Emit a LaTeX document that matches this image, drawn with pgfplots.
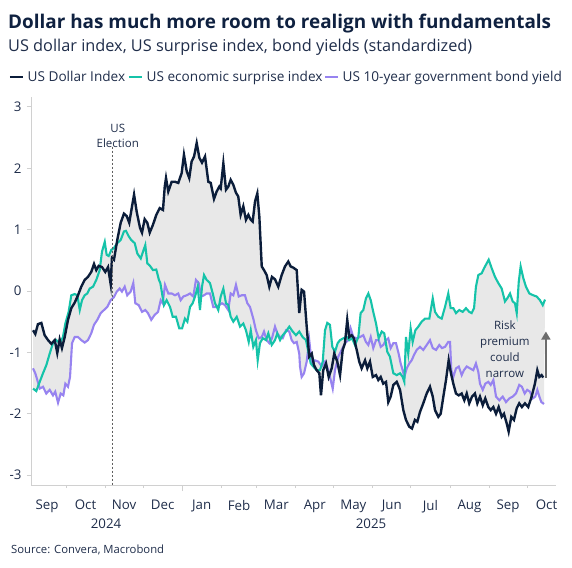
\documentclass[border=0pt]{standalone}
\usepackage{pgfplots}
\pgfplotsset{compat=1.18}
\usepgfplotslibrary{fillbetween}
\usetikzlibrary{arrows.meta}
\usepackage{fontspec}
\setmainfont{Open Sans}
\definecolor{navy}{HTML}{0B1D3A}
\definecolor{teal2}{HTML}{15C3A9}
\definecolor{lav}{HTML}{9783F0}
\definecolor{fillgray}{HTML}{E8E8E8}
\definecolor{axisgray}{HTML}{D0D0D0}
\definecolor{txt}{HTML}{1F2D4A}
\definecolor{ttl}{HTML}{0F2140}
\begin{document}
\begin{tikzpicture}
\begin{axis}[
  at={(0pt,0pt)}, anchor=south west,
  scale only axis, width=525pt, height=388pt,
  set layers,
  xmin=2.3, xmax=418, ymin=-3.16, ymax=3.16,
  axis lines*=left,
  axis line style={draw=axisgray, line width=0.8pt},
  tick align=outside,
  ytick={-3,-2,-1,0,1,2,3},
  yticklabels={{-3},{-2},{-1},0,1,2,3},
  ytick style={draw=axisgray, line width=0.8pt},
  major tick length=4pt,
  minor tick length=3pt,
  xtick={15,45.5,76,106.5,137.5,167,196.5,227,257.5,288,318.5,349.5,380,410.5},
  xticklabels={Sep,Oct,Nov,Dec,Jan,Feb,Mar,Apr,May,Jun,Jul,Aug,Sep,Oct},
  xtick style={draw=none},
  minor xtick={30,61,91,153,181,212,242,273,303,334,365,395},
  minor x tick style={draw=axisgray, line width=0.8pt},
  extra x ticks={122},
  extra x tick labels={},
  extra x tick style={xtick style={draw=axisgray, line width=0.8pt}, major tick length=6pt},
  ticklabel style={font=\fontsize{13.3}{15}\selectfont, text=txt},
  xticklabel style={yshift=-7.5pt},
  yticklabel style={xshift=-2pt},
  clip=false,
]
\addplot[lav, line width=2.1pt, name path=yld] table {
3.9 -1.26
5.7 -1.34
7.3 -1.45
9.2 -1.59
11.8 -1.56
14.4 -1.67
17.1 -1.61
19.7 -1.70
21.5 -1.64
23.7 -1.82
25.8 -1.67
27.9 -1.70
29.5 -1.51
31.6 -1.56
33.2 -1.40
34.8 -0.85
36.9 -0.75
39.5 -0.75
42.1 -0.80
44.8 -0.84
47.4 -0.80
50.0 -0.69
52.2 -0.55
54.8 -0.47
57.5 -0.36
60.1 -0.31
62.7 -0.26
65.4 -0.15
68.0 -0.10
70.2 -0.01
72.5 0.04
74.3 -0.01
76.5 0.07
78.5 -0.07
81.2 -0.01
83.3 0.13
84.9 -0.20
87.6 -0.23
90.2 -0.34
92.8 -0.31
94.9 -0.36
97.5 -0.47
100.2 -0.39
102.9 -0.34
105.0 -0.15
106.6 -0.20
108.4 0.10
111.0 -0.04
113.7 -0.04
116.3 -0.07
118.9 -0.04
120.8 -0.15
122.9 -0.09
125.6 -0.07
128.2 -0.04
130.8 -0.09
132.9 0.18
135.1 0.13
137.1 -0.09
139.3 -0.07
141.4 -0.04
144.0 -0.04
146.6 -0.26
148.8 -0.26
151.4 -0.23
153.5 -0.20
155.9 -0.23
158.5 -0.31
160.4 -0.04
162.5 -0.07
164.6 0.10
166.8 -0.09
169.1 -0.07
171.7 -0.07
173.6 -0.20
175.7 -0.26
178.3 -0.45
180.4 -0.64
182.6 -0.77
185.0 -0.75
186.8 -0.66
188.9 -0.80
191.0 -0.85
193.1 -0.77
195.5 -0.58
197.3 -0.69
199.5 -0.75
201.6 -0.77
204.2 -0.64
206.8 -0.66
208.7 -0.80
210.5 -0.85
212.7 -0.83
214.7 -1.02
215.3 -1.23
216.6 -1.40
218.5 -1.34
220.6 -1.15
222.6 -0.80
224.6 -1.18
227.2 -1.13
229.8 -1.15
232.5 -1.23
235.1 -1.15
237.7 -1.29
239.6 -1.45
241.2 -1.59
243.0 -1.29
245.6 -1.07
248.3 -0.96
250.9 -0.85
253.5 -0.80
255.4 -0.61
257.5 -0.75
260.2 -0.77
262.8 -0.75
265.4 -0.72
267.5 -0.83
269.4 -0.88
271.3 -0.75
273.3 -0.93
275.5 -0.80
277.6 -0.80
279.2 -0.91
281.2 -0.88
283.4 -0.80
285.2 -0.77
287.1 -0.93
289.2 -0.85
291.3 -0.85
293.4 -1.02
295.0 -1.18
296.6 -1.29
297.9 -1.40
299.8 -1.26
301.8 -1.18
303.7 -1.13
305.6 -1.04
307.7 -0.96
310.3 -0.91
312.9 -0.96
315.6 -0.88
318.2 -0.80
320.4 -0.93
323.0 -0.96
325.6 -0.88
327.7 -0.93
330.1 -0.91
332.7 -0.83
334.1 -0.83
335.1 -1.29
336.7 -1.40
338.8 -1.26
341.0 -1.23
343.3 -1.37
345.1 -1.29
347.3 -1.23
349.9 -1.26
352.5 -1.29
354.6 -1.18
356.5 -1.32
357.8 -1.51
360.0 -1.61
362.0 -1.51
364.4 -1.48
366.3 -1.53
368.4 -1.45
370.5 -1.72
373.1 -1.78
375.8 -1.72
378.4 -1.81
381.0 -1.75
383.7 -1.72
386.3 -1.67
388.9 -1.53
391.0 -1.56
393.2 -1.67
395.2 -1.61
397.4 -1.64
399.5 -1.75
401.6 -1.72
403.2 -1.61
404.8 -1.72
406.4 -1.81
408.5 -1.84
};
\addplot[teal2, line width=2.1pt, name path=ces] table {
3.9 -1.59
6.5 -1.63
9.2 -1.48
11.8 -1.34
14.4 -1.21
17.1 -1.02
19.7 -0.85
22.3 -0.80
25.0 -0.85
27.6 -0.75
29.5 -0.53
32.1 -0.34
34.2 -0.07
36.9 -0.05
39.0 -0.07
40.9 -0.31
42.7 -0.15
44.8 -0.07
46.9 -0.04
48.8 0.04
51.4 0.07
54.0 0.18
56.7 0.34
58.5 0.64
60.7 0.80
62.2 0.59
63.8 0.57
65.9 0.67
68.0 0.70
70.6 0.78
73.3 0.83
75.9 0.97
77.5 0.98
79.7 0.89
81.7 0.83
84.4 0.78
86.5 0.61
89.2 0.53
91.0 0.64
92.8 0.75
94.4 0.45
96.5 0.41
98.9 0.34
101.5 0.35
103.6 0.18
104.7 0.13
107.6 -0.23
109.7 -0.15
112.4 -0.26
114.5 -0.42
117.1 -0.42
119.7 -0.61
121.9 -0.61
124.2 -0.45
126.1 -0.50
128.2 -0.26
130.3 -0.20
132.2 -0.09
134.3 0.07
136.1 -0.31
137.7 0.07
139.3 0.26
141.4 0.18
144.0 0.13
146.2 -0.04
148.0 -0.20
150.6 -0.31
152.5 -0.09
154.6 0.04
156.7 -0.20
158.5 -0.23
160.4 -0.42
162.5 -0.50
165.2 -0.42
167.8 -0.58
170.4 -0.53
172.5 -0.64
174.7 -0.83
176.3 -0.64
178.3 -0.91
180.4 -0.80
181.8 -1.13
183.6 -0.85
185.8 -0.77
188.4 -0.80
190.2 -0.69
192.9 -0.88
195.5 -0.80
197.3 -0.69
199.5 -0.80
201.6 -0.72
204.2 -0.66
206.8 -0.58
209.5 -0.66
212.1 -0.72
214.7 -0.66
217.4 -0.75
220.0 -0.80
221.9 -0.99
223.8 -1.18
225.8 -1.23
228.5 -1.29
231.1 -1.29
233.3 -1.15
235.1 -0.64
236.9 -0.52
239.0 -0.55
240.9 -0.91
243.0 -0.99
245.1 -0.85
247.0 -0.80
249.6 -0.77
252.3 -0.75
254.3 -0.80
256.5 -0.77
258.8 -0.88
261.5 -0.75
263.3 -0.36
265.4 -0.31
267.5 -0.12
269.4 -0.04
271.3 -0.15
273.3 -0.34
275.5 -0.53
277.6 -0.77
280.0 -0.66
282.0 -0.69
284.4 -0.99
286.5 -1.07
289.2 -1.34
291.9 -1.37
294.5 -1.34
296.6 -1.40
297.9 -1.48
299.2 -0.75
301.0 -1.02
302.9 -0.61
304.5 -0.83
306.6 -0.64
309.0 -0.58
311.6 -0.50
314.3 -0.45
317.7 -0.45
320.4 -0.12
322.2 -0.34
324.8 -0.42
327.5 -0.45
330.1 -0.26
332.7 -0.04
334.6 -0.28
336.7 -0.28
338.8 -0.36
341.4 -0.31
344.1 -0.34
346.7 -0.28
349.3 -0.34
351.2 -0.36
353.1 -0.28
354.6 0.07
356.5 0.26
359.2 0.29
361.0 0.37
363.1 0.45
364.7 0.51
367.1 0.37
369.7 0.23
372.3 0.13
375.0 0.04
377.6 -0.17
379.4 -0.12
381.6 -0.04
383.7 -0.17
385.5 -0.20
386.9 -0.36
388.5 0.15
390.0 0.40
392.1 0.21
394.2 0.07
396.9 -0.04
400.0 -0.07
402.7 -0.09
405.3 -0.15
407.5 -0.23
409.3 -0.14
};
\addplot[navy, line width=2.4pt, name path=usd] table {
3.9 -0.64
5.7 -0.70
7.8 -0.54
10.5 -0.52
13.1 -0.72
15.8 -0.80
18.4 -0.86
21.1 -0.80
23.1 -1.01
25.0 -0.79
26.8 -0.93
29.0 -0.75
31.6 -0.47
34.2 -0.28
36.9 -0.19
39.5 -0.07
42.1 0.07
44.8 0.18
47.4 0.23
50.0 0.31
52.2 0.44
54.0 0.34
55.9 0.41
58.5 0.39
61.1 0.31
63.3 0.39
65.4 0.11
66.4 0.54
68.0 0.51
70.6 0.83
73.3 1.11
75.9 1.26
78.1 1.22
80.1 1.11
82.3 1.38
83.9 1.57
86.0 1.29
88.6 1.03
90.2 0.95
92.3 1.17
94.4 1.11
96.3 0.95
98.9 1.08
101.5 1.24
104.2 1.35
106.8 1.32
108.2 1.70
109.2 1.84
111.0 1.62
113.7 1.78
116.3 1.78
118.9 1.76
121.6 1.92
123.4 2.22
125.6 1.95
127.6 1.84
129.5 2.11
131.4 2.19
133.5 2.41
135.6 2.17
137.7 2.09
140.1 2.19
142.7 1.78
144.6 1.76
147.2 1.50
149.3 1.62
151.4 1.70
152.5 1.67
154.6 2.08
156.7 1.65
158.5 1.70
160.4 1.81
162.5 1.73
164.6 1.60
166.4 1.54
168.3 1.24
170.4 1.38
172.5 1.16
174.4 1.24
176.3 1.16
177.8 1.13
179.7 1.46
181.5 1.59
183.1 1.21
185.0 0.40
186.8 0.34
188.9 0.26
191.0 0.07
193.1 0.23
195.5 0.19
198.1 0.07
200.8 0.26
203.4 0.40
206.0 0.48
207.9 0.40
210.0 0.38
212.7 0.34
214.7 -0.36
216.6 0.02
218.5 -0.01
220.6 -0.58
222.6 -1.07
224.6 -1.02
226.4 -1.21
228.5 -1.29
230.6 -1.34
231.9 -1.70
233.7 -1.29
235.9 -1.18
238.0 -1.40
240.4 -1.26
242.4 -1.02
244.8 -1.15
247.0 -1.37
249.1 -0.96
250.9 -0.85
252.7 -0.47
254.3 -0.75
256.2 -0.72
258.0 -0.77
260.2 -0.96
262.2 -1.15
264.1 -1.26
266.8 -1.13
268.6 -1.26
270.7 -1.15
272.9 -1.40
275.5 -1.37
277.3 -1.45
279.2 -1.40
281.2 -1.51
283.4 -1.48
285.2 -1.81
287.1 -1.72
289.2 -1.53
291.9 -1.48
294.5 -1.61
297.1 -1.94
299.2 -2.10
301.8 -2.21
304.0 -2.24
306.3 -2.10
308.2 -2.13
310.3 -1.97
312.9 -1.83
315.6 -1.67
318.2 -1.56
320.4 -1.72
322.2 -1.94
324.8 -2.05
326.7 -2.00
328.8 -1.72
330.9 -1.45
333.0 -1.13
334.8 -1.34
336.7 -1.51
338.8 -1.67
341.0 -1.70
343.3 -1.67
345.4 -1.78
347.3 -1.67
349.3 -1.83
351.5 -1.72
353.8 -1.67
355.7 -1.83
357.8 -1.72
360.0 -1.86
362.0 -1.75
364.4 -1.89
366.3 -1.94
368.4 -1.89
370.5 -2.00
372.6 -1.89
375.0 -2.05
376.8 -2.00
379.0 -2.16
380.5 -2.29
382.6 -2.05
384.7 -2.10
386.9 -1.91
388.9 -1.83
391.0 -1.89
393.4 -1.83
396.0 -1.89
398.7 -1.72
401.3 -1.51
403.2 -1.29
404.8 -1.40
406.6 -1.37
407.9 -1.41
};
\addplot[fill=fillgray, draw=none] fill between[of=usd and ces];
\addplot[fill=fillgray, draw=none] fill between[of=usd and yld];
\addplot[fill=fillgray, draw=none] fill between[of=ces and yld];
\draw[gray!75!black, line width=0.7pt, dash pattern=on 2pt off 2pt] (axis cs:66.5,2.35) -- (axis cs:66.5,-3.16);
\node[align=center, font=\fontsize{11.5}{15}\selectfont, text=txt] at (axis cs:71,2.53) {US\\Election};
\node[align=center, font=\fontsize{11.5}{16}\selectfont, text=txt] at (axis cs:377.5,-0.95) {Risk\\premium\\could\\narrow};
\draw[draw=gray!85!black, line width=1.4pt, -{Triangle[length=8pt,width=9pt]}] (axis cs:410,-1.42) -- (axis cs:410,-0.66);
\end{axis}
\node[anchor=base west, text=ttl, font=\fontsize{18.9}{22}\selectfont\bfseries, inner sep=0pt] at (-23pt,456.5pt) {Dollar has much more room to realign with fundamentals};
\node[anchor=base west, text=txt, font=\fontsize{16.3}{19}\selectfont, inner sep=0pt] at (-23pt,433pt) {US dollar index, US surprise index, bond yields (standardized)};
\begin{scope}[font=\fontsize{13.6}{15}\selectfont]
\draw[navy, line width=2.2pt] (-21pt,408pt) -- (-8pt,408pt);
\node[anchor=base west, text=txt, inner sep=0pt] at (-3.5pt,403.5pt) {US Dollar Index};
\draw[teal2, line width=2.2pt] (98pt,408pt) -- (111pt,408pt);
\node[anchor=base west, text=txt, inner sep=0pt] at (115.5pt,403.5pt) {US economic surprise index};
\draw[lav, line width=2.2pt] (294pt,408pt) -- (307pt,408pt);
\node[anchor=base west, text=txt, inner sep=0pt] at (311.5pt,403.5pt) {US 10-year government bond yield};
\end{scope}
\node[text=txt, font=\fontsize{13.3}{15}\selectfont] at (75pt,-39pt) {2024};
\node[text=txt, font=\fontsize{13.3}{15}\selectfont] at (340pt,-39pt) {2025};
\node[anchor=base west, text=txt, font=\fontsize{11.3}{13}\selectfont, inner sep=0pt] at (-20pt,-68pt) {Source: Convera, Macrobond};
\pgfresetboundingbox
\path[use as bounding box] (-31pt,-82pt) rectangle (541pt,485pt);
\end{tikzpicture}
\end{document}
